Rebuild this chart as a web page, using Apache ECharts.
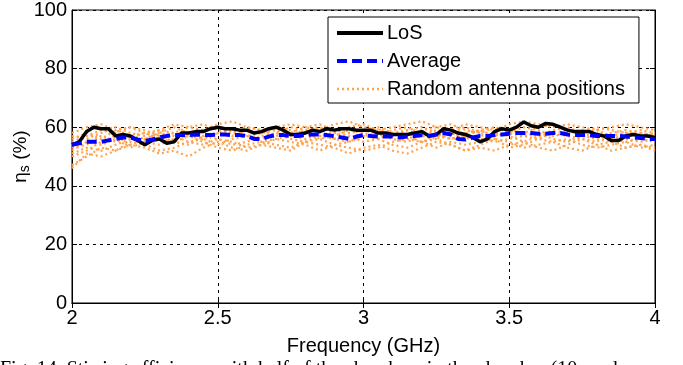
<!DOCTYPE html>
<html>
<head>
<meta charset="utf-8">
<script src="https://cdn.jsdelivr.net/npm/echarts@6/dist/echarts.min.js"></script>
<style>
html,body{margin:0;padding:0;background:#fff;}
#chart{width:683px;height:365px;}
</style>
</head>
<body>
<div id="chart"></div>
<script>
// Frequencies (GHz)
const freqFine = [];
for (let i = 0; i <= 80; i++) freqFine.push(+(2 + i * 0.025).toFixed(3));
const freqCoarse = [];
for (let i = 0; i <= 40; i++) freqCoarse.push(+(2 + i * 0.05).toFixed(2));

const xTickLabels = ['2', '2.5', '3', '3.5', '4'];
const yTickLabels = ['0', '20', '40', '60', '80', '100'];

const losValues = [54,55,58.5,60,59.5,59.5,57,57.5,57,55.5,54,55.5,56,54.5,55,58,58,58.5,58.5,59.5,
  60,59.5,59.5,59,59,58,58.5,59.5,60,59,57.5,57.5,58,59,58.5,59.5,59,59.5,59.5,59,
  59,59,58,58,57.5,57.5,57.5,58,58.5,57,57.5,59.5,59,58,57.5,56.5,55,56,58.5,59.5,
  59,60,61.8,60.5,60,61.3,61,60,59,58.5,58.5,58.5,57.5,57,55.5,55.5,57,57.5,57,57,56.5];

const averageValues = [54,54.5,55,55,55,55.5,56,56.5,56.5,55.8,55.2,55.8,56.5,57,57.3,57.3,57.3,57.5,57.3,57.3,
  57.5,57.5,57.3,57.3,57,56,56,56.8,57.3,57.3,57,57,57.3,57.5,57.5,57.3,57,56.5,56,56.8,
  57.3,57,56.8,56.8,56.8,56.5,56.8,57,57.3,57,57.5,58,57.5,56,55.8,56.5,57,57,57.3,57.5,
  57.8,58,58,58,57.8,57.8,58,58,57.5,57.3,57.3,57.3,57,57,57,57,56.8,56.5,56.3,56,56];

const random1 = [50,52,55,57,54,56,58,57,55,56,58,59,57,56,58,60,59,57,56,58,59,58,57,59,60,58,56,57,59,60,58,57,56,58,59,57,56,55,57,58,57];
const random2 = [47,50,53,52,55,54,52,53,55,54,56,55,53,54,56,55,54,52,54,55,57,56,54,53,55,56,54,52,54,56,55,53,54,55,53,52,54,55,53,54,53];
const random3 = [58,60,61,59,60,58,59,61,60,59,61,62,60,59,60,61,60,59,61,62,60,59,60,61,62,60,59,61,60,59,61,62,61,60,61,60,59,60,61,60,59];
const random4 = [52,55,54,56,53,55,57,55,54,57,56,54,55,57,58,56,55,57,58,57,55,56,58,57,55,57,58,56,57,58,57,55,57,58,57,56,55,57,56,55,56];
const random5 = [55,57,59,58,60,59,57,58,60,61,59,58,60,59,57,58,60,61,59,58,59,60,58,57,59,60,61,59,58,60,59,58,60,61,59,58,60,59,58,57,58];
const random6 = [46,51,50,52,54,53,51,52,50,53,55,53,52,54,53,52,55,54,53,51,53,54,52,51,53,55,54,52,53,52,54,55,53,52,54,56,54,52,53,54,52];
const random7 = [53,54,57,55,57,58,56,55,57,56,54,56,57,55,56,57,56,58,56,55,57,58,56,55,57,56,58,57,56,55,56,57,58,56,55,57,58,56,55,56,55];
const random8 = [56,58,56,59,57,56,58,60,58,57,58,57,59,58,60,59,58,56,57,59,58,57,59,60,58,57,56,58,59,57,58,60,59,57,58,59,57,58,59,58,57];
const random9 = [51,53,52,54,56,55,54,56,57,55,53,52,54,55,54,53,55,56,54,53,52,53,55,56,55,53,55,54,55,56,53,54,56,55,56,54,53,54,55,53,54];
const random10 = [57,56,58,60,58,57,59,58,57,59,60,58,57,58,59,57,59,60,58,60,61,59,58,59,57,59,58,60,58,57,59,58,57,59,60,58,59,57,58,59,58];
const randomSets = [random1,random2,random3,random4,random5,random6,random7,random8,random9,random10];

const RAND_NAME = 'Random antenna positions';
const ORANGE = '#FFA34D';
const series = [];
randomSets.forEach(function (arr) {
  series.push({
    name: RAND_NAME, type: 'line', showSymbol: false, symbol: 'none', animation: false,
    data: freqCoarse.map(function (f, i) { return [f, arr[i]]; }),
    lineStyle: { color: ORANGE, width: 2.2, type: [2, 3] }, itemStyle: { color: ORANGE }, z: 2
  });
});
series.push({
  name: 'Average', type: 'line', showSymbol: false, symbol: 'none', animation: false,
  data: freqFine.map(function (f, i) { return [f, averageValues[i]]; }),
  lineStyle: { color: '#0000FF', width: 4, type: [10, 5] }, itemStyle: { color: '#0000FF' }, z: 4
});
series.push({
  name: 'LoS', type: 'line', showSymbol: false, symbol: 'none', animation: false,
  data: freqFine.map(function (f, i) { return [f, losValues[i]]; }),
  lineStyle: { color: '#000000', width: 3.5 }, itemStyle: { color: '#000000' }, z: 3
});

const chart = echarts.init(document.getElementById('chart'), null, { renderer: 'canvas' });
const font = 'Arial, "Liberation Sans", sans-serif';
const option = {
  animation: false,
  backgroundColor: '#fff',
  grid: { left: 72, right: 28, top: 10, bottom: 62, show: true, borderColor: '#000', borderWidth: 1,
    backgroundColor: 'transparent', containLabel: false, outerBoundsMode: 'none' },
  legend: {
    data: [
      { name: 'LoS', lineStyle: { width: 4, color: '#000' } },
      { name: 'Average', lineStyle: { width: 4, color: '#0000FF', type: [10, 5] } },
      { name: RAND_NAME, lineStyle: { width: 2.5, color: ORANGE, type: [2, 3] } }
    ],
    orient: 'vertical', left: 328, top: 17,
    padding: [6, 14, 4, 7], itemGap: 8, itemWidth: 46, itemHeight: 20,
    backgroundColor: '#fff', borderColor: '#000', borderWidth: 1,
    itemStyle: { opacity: 0, borderWidth: 0 },
    textStyle: { fontFamily: font, fontSize: 20, color: '#000', padding: [0, 0, 0, -1] },
    selectedMode: false
  },
  xAxis: [{
    type: 'value', min: 2, max: 4, interval: 0.5,
    axisLine: { show: true, lineStyle: { color: '#000', width: 1 } },
    axisTick: { inside: true, length: 5, lineStyle: { color: '#000' } },
    axisLabel: { fontFamily: font, fontSize: 20, color: '#000', margin: 5,
      formatter: function (v) { const s = String(+v.toFixed(1)); return xTickLabels.indexOf(s) >= 0 ? s : ''; } },
    splitLine: { show: true, lineStyle: { color: '#000', type: [3, 4], width: 1 } },
    name: 'Frequency (GHz)', nameLocation: 'middle', nameGap: 33,
    nameTextStyle: { fontFamily: font, fontSize: 20, color: '#000' }
  }, {
    type: 'value', min: 2, max: 4, interval: 0.5, position: 'top',
    axisLine: { show: true, lineStyle: { color: '#000' } },
    axisTick: { inside: true, length: 5, lineStyle: { color: '#000' } },
    axisLabel: { show: false }, splitLine: { show: false }
  }],
  yAxis: [{
    type: 'value', min: 0, max: 100, interval: 20,
    axisLine: { show: true, lineStyle: { color: '#000', width: 1 } },
    axisTick: { inside: true, length: 5, lineStyle: { color: '#000' } },
    axisLabel: { fontFamily: font, fontSize: 20, color: '#000', margin: 5,
      formatter: function (v) { const s = String(v); return yTickLabels.indexOf(s) >= 0 ? s : ''; } },
    splitLine: { show: true, lineStyle: { color: '#000', type: [3, 4], width: 1 } },
    name: '{eta|η}{sub|s}{eta| (%)}', nameLocation: 'middle', nameGap: 40, nameRotate: 90,
    nameMoveOverlap: false,
    nameTextStyle: { fontFamily: font, color: '#000',
      rich: { eta: { fontFamily: font, fontSize: 19, color: '#000' },
              sub: { fontFamily: font, fontSize: 14, color: '#000', verticalAlign: 'bottom', padding: [8, 0, 0, 0] } } }
  }, {
    type: 'value', min: 0, max: 100, interval: 20, position: 'right',
    axisLine: { show: true, lineStyle: { color: '#000' } },
    axisTick: { inside: true, length: 5, lineStyle: { color: '#000' } },
    axisLabel: { show: false }, splitLine: { show: false }
  }],
  series: series,
  graphic: [{
    type: 'text', left: 0, top: 360, silent: true,
    style: { text: 'Fig. 14. Stirring efficiency with half of the absorbers in the chamber (10 random',
      font: '20px "Liberation Serif", "Times New Roman", serif', fill: '#000' }
  }]
};
chart.setOption(option);
</script>
</body>
</html>
